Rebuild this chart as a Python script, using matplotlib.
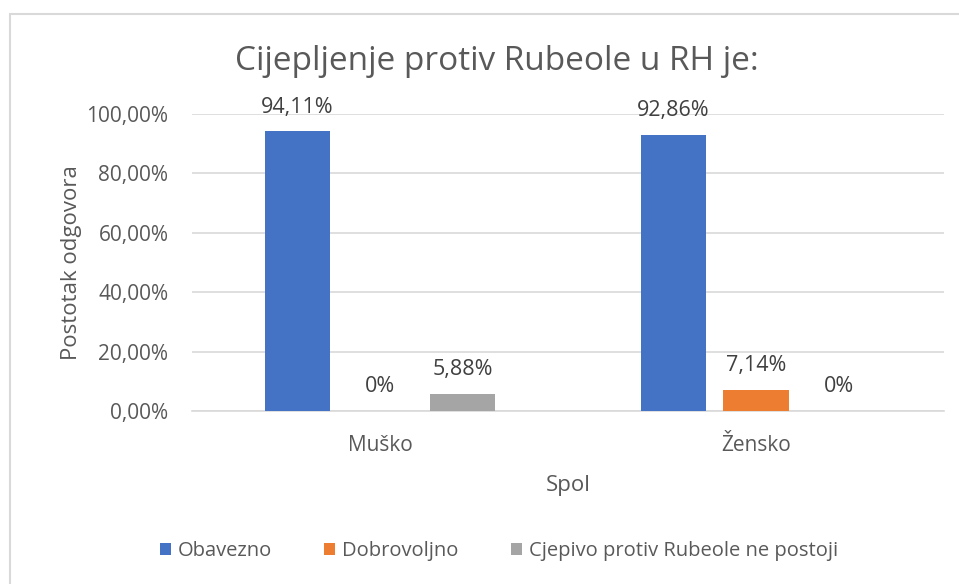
import matplotlib.pyplot as plt
import numpy as np
from matplotlib.patches import Rectangle

# data
categories = ["Muško", "Žensko"]
series_names = ["Obavezno", "Dobrovoljno", "Cjepivo protiv Rubeole ne postoji"]
obavezno = [94.11, 92.86]
dobrovoljno = [0.0, 7.14]
ne_postoji = [5.88, 0.0]
labels = [["94,11%", "92,86%"], ["0%", "7,14%"], ["5,88%", "0%"]]

colors = ["#4472C4", "#ED7D31", "#A5A5A5"]
text_col = "#595959"

plt.rcParams["font.family"] = ["Open Sans", "DejaVu Sans"]

fig = plt.figure(figsize=(9.59, 5.84), dpi=100)
ax = fig.add_axes([192 / 959, 1 - 411 / 584, (944 - 192) / 959, (411 - 114) / 584])

# chart border (only top/left visible in the reference)
fig.patches.append(Rectangle((10 / 959, -0.1), 1.2, 1 - 14 / 584 + 0.1,
                             transform=fig.transFigure, fill=False,
                             edgecolor="#D9D9D9", linewidth=1.5))

x = np.arange(len(categories))
width = 0.173
offsets = [-0.22, 0.0, 0.22]
all_vals = [obavezno, dobrovoljno, ne_postoji]

for i, vals in enumerate(all_vals):
    bars = ax.bar(x + offsets[i], vals, width, color=colors[i], label=series_names[i], zorder=3)
    for b, lab in zip(bars, labels[i]):
        ax.annotate(lab, (b.get_x() + b.get_width() / 2, b.get_height()),
                    xytext=(0, 10), textcoords="offset points", ha="center", va="bottom",
                    fontsize=15.5, color="#404040")

ax.set_xlim(-0.5, 1.5)
ax.set_ylim(0, 100)
ax.set_yticks(range(0, 101, 20))
ax.set_yticklabels([f"{v},00%" for v in range(0, 101, 20)])
ax.set_xticks(x)
ax.set_xticklabels(categories)
ax.tick_params(axis="both", length=0, labelsize=15, colors=text_col)
ax.tick_params(axis="x", pad=17)
ax.tick_params(axis="y", pad=17)
ax.grid(axis="y", color="#D9D9D9", linewidth=1.2, zorder=0)
for s in ["top", "right", "left"]:
    ax.spines[s].set_visible(False)
ax.spines["bottom"].set_color("#D9D9D9")
ax.spines["bottom"].set_linewidth(1.2)

ax.set_xlabel("Spol", fontsize=16, color=text_col, labelpad=14)
ax.set_ylabel("Postotak odgovora", fontsize=16, color=text_col, labelpad=3)

fig.text(497 / 959, 1 - 62 / 584, "Cijepljenje protiv Rubeole u RH je:",
         ha="center", va="center", fontsize=24, color=text_col)

fig.legend(loc="center", bbox_to_anchor=(499 / 959, 1 - 551 / 584), ncol=3,
           frameon=False, fontsize=14.5, labelcolor=text_col, handlelength=0.55,
           handleheight=0.55, handletextpad=0.35, columnspacing=2.6)

plt.savefig("out.png", dpi=100)
